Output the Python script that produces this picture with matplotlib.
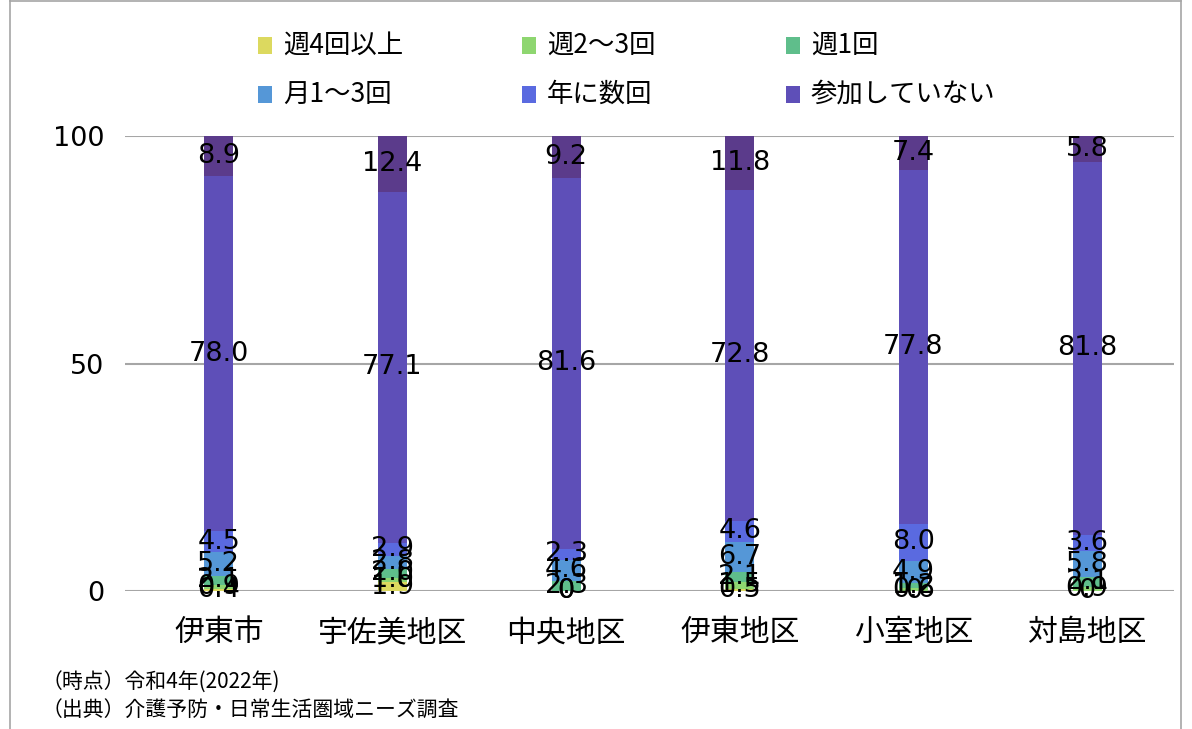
import matplotlib
matplotlib.use("Agg")
import matplotlib.pyplot as plt
from matplotlib.patches import Rectangle
from matplotlib.lines import Line2D
import numpy as np

plt.rcParams['font.family'] = ['Noto Sans CJK JP', 'DejaVu Sans']

# 地区別の参加頻度（%）
areas = ["伊東市", "宇佐美地区", "中央地区", "伊東地区", "小室地区", "対島地区"]
series_names = ["週4回以上", "週2～3回", "週1回", "月1～3回", "年に数回", "参加していない", "無回答"]
week4 = [0.4, 1.9, 0.0, 0.5, 0.0, 0.0]
week2_3 = [0.9, 1.0, 0.0, 1.5, 0.6, 0.9]
week1 = [2.1, 2.0, 2.3, 2.1, 1.2, 2.1]
month1_3 = [5.2, 2.8, 4.6, 6.7, 4.9, 5.8]
yearly = [4.5, 2.9, 2.3, 4.6, 8.0, 3.6]
none = [78.0, 77.1, 81.6, 72.8, 77.8, 81.8]
no_answer = [8.9, 12.4, 9.2, 11.8, 7.4, 5.8]

series = [week4, week2_3, week1, month1_3, yearly, none, no_answer]
colors = ["#dcd95f", "#8ed670", "#5fbe8b", "#5597d7", "#5a6ae0", "#5e4fb8", "#5b3b8b"]
yticks = [0, 50, 100]

W, H = 1192, 729
fig = plt.figure(figsize=(W / 100, H / 100), dpi=100)
ax = fig.add_axes([125 / W, (H - 591) / H, (1174 - 125) / W, (591 - 136) / H])

x = np.arange(len(areas))
bottom = np.zeros(len(areas))
for vals, col in zip(series, colors):
    vals = np.array(vals)
    ax.bar(x, vals, width=0.168, bottom=bottom, color=col, linewidth=0, zorder=2)
    for xi, b, v in zip(x, bottom, vals):
        txt = "0" if v == 0 else f"{v:.1f}"
        ax.text(xi, b + v / 2, txt, ha="center", va="center", fontsize=19.5,
                family="DejaVu Sans", color="black", zorder=5)
    bottom += vals

ax.set_xlim(-0.54, len(areas) - 0.5)
ax.set_ylim(0, 100)
ax.set_yticks(yticks)
ax.set_yticklabels([str(t) for t in yticks], fontsize=19.5, family="DejaVu Sans")
ax.set_xticks(x)
ax.set_xticklabels(areas, fontsize=21.5)
ax.tick_params(axis="x", length=0, pad=19)
ax.tick_params(axis="y", length=0, pad=15)
for s in ax.spines.values():
    s.set_visible(False)
ax.yaxis.grid(True, color="#a6a6a6", linewidth=1.5, zorder=1)
ax.set_axisbelow(True)

# 凡例（3列×2行）
col_x = [258, 522, 786]
row_y = [45, 94]
for i, (name, col) in enumerate(zip(series_names[:6], colors[:6])):
    cx = col_x[i % 3]
    cy = row_y[i // 3]
    fig.add_artist(Rectangle((cx / W, (H - cy - 9) / H), 14 / W, 17 / H,
                             transform=fig.transFigure, color=col, linewidth=0))
    fig.text((cx + 25) / W, (H - cy) / H, name, ha="left", va="center", fontsize=19)

# 出典・時点
fig.text(42 / W, (H - 683) / H, "（時点）令和4年(2022年)", ha="left", va="center", fontsize=15)
fig.text(42 / W, (H - 710) / H, "（出典）介護予防・日常生活圏域ニーズ調査", ha="left", va="center", fontsize=15)

# 外枠
for xs, ys in [([10, 10], [0, H]), ([1181, 1181], [0, H]), ([10, 1181], [H - 1, H - 1])]:
    fig.add_artist(Line2D([v / W for v in xs], [v / H for v in ys], transform=fig.transFigure,
                          color="#a6a6a6", linewidth=1.2))

fig.savefig("out.png", dpi=100)
